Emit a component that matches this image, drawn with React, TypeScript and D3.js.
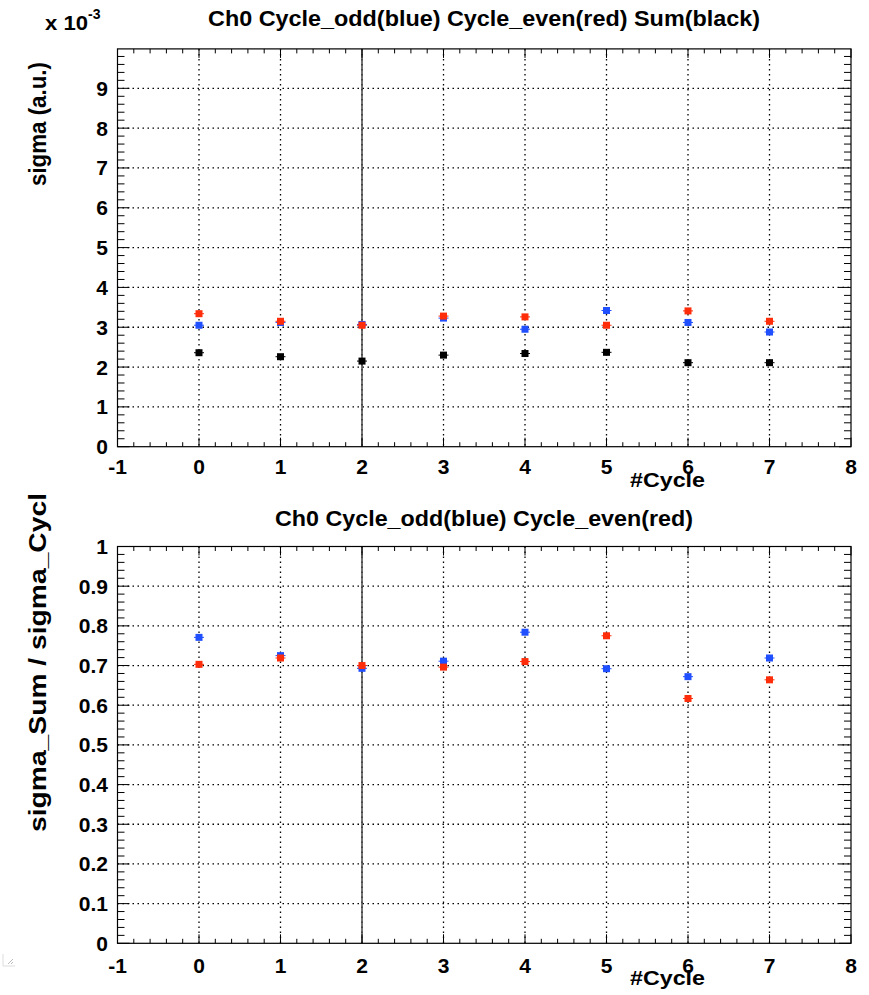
import React from "react";
import * as d3 from "d3";

const cycles = [0, 1, 2, 3, 4, 5, 6, 7];
const sigmaOdd = [3.05, 3.12, 3.07, 3.23, 2.95, 3.42, 3.12, 2.88];
const sigmaEven = [3.34, 3.15, 3.05, 3.28, 3.26, 3.05, 3.41, 3.15];
const sigmaSum = [2.36, 2.26, 2.15, 2.3, 2.34, 2.37, 2.11, 2.11];
const ratioOdd = [0.771, 0.725, 0.693, 0.711, 0.784, 0.692, 0.672, 0.719];
const ratioEven = [0.703, 0.719, 0.7, 0.696, 0.71, 0.775, 0.617, 0.664];

const xTicks = [-1, 0, 1, 2, 3, 4, 5, 6, 7, 8];
const topYTicks = [0, 1, 2, 3, 4, 5, 6, 7, 8, 9];
const botYTicks = [0, 0.1, 0.2, 0.3, 0.4, 0.5, 0.6, 0.7, 0.8, 0.9, 1];

const BLUE = "#1f4fff";
const RED = "#ff2d0a";
const BLACK = "#000000";
const FONT = "'Liberation Sans', Arial, Helvetica, sans-serif";

type Series = { values: number[]; color: string };

function Panel(props: {
  top: number;
  bottom: number;
  yDomain: [number, number];
  yTicks: number[];
  yMinorStep: number;
  yFmt: (v: number) => string;
  series: Series[];
  title: string;
  titleY: number;
  titleLen: number;
  yTitle: string;
  yTitleEnd: number;
  yTitleLen: number;
  xTitleY: number;
  xLabelY: number;
}) {
  const left = 117.5;
  const right = 851;
  const x = d3.scaleLinear().domain([-1, 8]).range([left, right]);
  const y = d3.scaleLinear().domain(props.yDomain).range([props.bottom, props.top]);
  const xMinor = d3.range(-1, 8.0001, 0.2);
  const yMinor = d3.range(props.yDomain[0], props.yDomain[1] + 1e-9, props.yMinorStep);
  const gridX = xTicks.filter((t) => t > -1 && t < 8);
  const gridY = props.yTicks.filter((t) => y(t) > props.top + 1 && y(t) < props.bottom - 1);
  const ms = 7;
  return (
    <g>
      {gridX.map((t) => (
        <line key={"gx" + t} x1={x(t)} x2={x(t)} y1={props.top} y2={props.bottom}
          stroke="#000" strokeWidth={1.3} strokeDasharray="1.5 3.5" />
      ))}
      {gridY.map((t) => (
        <line key={"gy" + t} x1={left} x2={right} y1={y(t)} y2={y(t)}
          stroke="#000" strokeWidth={1.3} strokeDasharray="1.5 3.5" />
      ))}
      <line x1={x(2)} x2={x(2)} y1={props.top} y2={props.bottom} stroke="#444" strokeWidth={1.5} />
      {xMinor.map((t, i) => {
        const major = Math.abs(t - Math.round(t)) < 1e-6;
        const len = major ? 9 : 4.5;
        return (
          <g key={"xm" + i}>
            <line x1={x(t)} x2={x(t)} y1={props.bottom} y2={props.bottom - len} stroke="#000" strokeWidth={1} />
            <line x1={x(t)} x2={x(t)} y1={props.top} y2={props.top + len} stroke="#000" strokeWidth={1} />
          </g>
        );
      })}
      {yMinor.map((t, i) => {
        const major = props.yTicks.some((m) => Math.abs(m - t) < 1e-6);
        const len = major ? 12 : 7;
        return (
          <g key={"ym" + i}>
            <line x1={left} x2={left + len} y1={y(t)} y2={y(t)} stroke="#000" strokeWidth={1} />
            <line x1={right} x2={right - len} y1={y(t)} y2={y(t)} stroke="#000" strokeWidth={1} />
          </g>
        );
      })}
      <rect x={left} y={props.top} width={right - left} height={props.bottom - props.top}
        fill="none" stroke="#000" strokeWidth={1.2} />
      {xTicks.map((t) => (
        <text key={"xl" + t} x={x(t)} y={props.xLabelY} textAnchor="middle"
          fontFamily={FONT} fontWeight="bold" fontSize={21}>{t}</text>
      ))}
      {props.yTicks.map((t) => (
        <text key={"yl" + t} x={108} y={y(t) + 7.5} textAnchor="end"
          fontFamily={FONT} fontWeight="bold" fontSize={21}>{props.yFmt(t)}</text>
      ))}
      {props.series.map((s, si) => (
        <g key={"s" + si}>
          {s.values.map((v, i) => (
            <g key={i}>
              <line x1={x(cycles[i]) - 5} x2={x(cycles[i]) + 5} y1={y(v)} y2={y(v)} stroke={s.color} strokeWidth={1} />
              <rect x={x(cycles[i]) - ms / 2} y={y(v) - ms / 2} width={ms} height={ms} fill={s.color} />
            </g>
          ))}
        </g>
      ))}
      <text x={484} y={props.titleY} textAnchor="middle" fontFamily={FONT} fontWeight="bold"
        fontSize={22} textLength={props.titleLen} lengthAdjust="spacingAndGlyphs">{props.title}</text>
      <text x={705} y={props.xTitleY} textAnchor="end" fontFamily={FONT} fontWeight="bold"
        fontSize={21} textLength={75} lengthAdjust="spacingAndGlyphs">#Cycle</text>
      <text transform={`translate(46,${props.yTitleEnd}) rotate(-90)`} textAnchor="end" fontFamily={FONT}
        fontWeight="bold" fontSize={23} textLength={props.yTitleLen} lengthAdjust="spacingAndGlyphs">{props.yTitle}</text>
    </g>
  );
}

export default function App() {
  const fmtTop = (v: number) => d3.format("d")(v);
  const fmtBot = (v: number) => (v === 0 || v === 1 ? String(v) : d3.format(".1f")(v));
  return (
    <svg width={869} height={995} style={{ position: "absolute", left: 0, top: 0, background: "#fff" }}>
      <rect x={0} y={0} width={869} height={995} fill="#fff" />
      <Panel
        top={48.9}
        bottom={446.7}
        yDomain={[0, 9.99]}
        yTicks={topYTicks}
        yMinorStep={0.2}
        yFmt={fmtTop}
        series={[
          { values: sigmaOdd, color: BLUE },
          { values: sigmaEven, color: RED },
          { values: sigmaSum, color: BLACK },
        ]}
        title="Ch0 Cycle_odd(blue) Cycle_even(red) Sum(black)"
        titleY={26}
        titleLen={552}
        yTitle="sigma (a.u.)"
        yTitleEnd={62}
        yTitleLen={124}
        xTitleY={487}
        xLabelY={474}
      />
      <text x={45} y={30} fontFamily={FONT} fontWeight="bold" fontSize={20}
        textLength={43} lengthAdjust="spacingAndGlyphs">x 10</text>
      <text x={88} y={19} fontFamily={FONT} fontWeight="bold" fontSize={14}>-3</text>
      <Panel
        top={546.5}
        bottom={943.3}
        yDomain={[0, 1]}
        yTicks={botYTicks}
        yMinorStep={0.02}
        yFmt={fmtBot}
        series={[
          { values: ratioOdd, color: BLUE },
          { values: ratioEven, color: RED },
        ]}
        title="Ch0 Cycle_odd(blue) Cycle_even(red)"
        titleY={526}
        titleLen={418}
        yTitle="sigma_Sum / sigma_Cycl"
        yTitleEnd={493}
        yTitleLen={339}
        xTitleY={985}
        xLabelY={973}
      />
      <g stroke="#bbb" strokeWidth={1} fill="none">
        <path d="M3,966 L3,954 M3,966 L15,966" stroke="#ddd" />
        <path d="M8,964 L13,959 M11,964 L13,962" />
      </g>
    </svg>
  );
}
